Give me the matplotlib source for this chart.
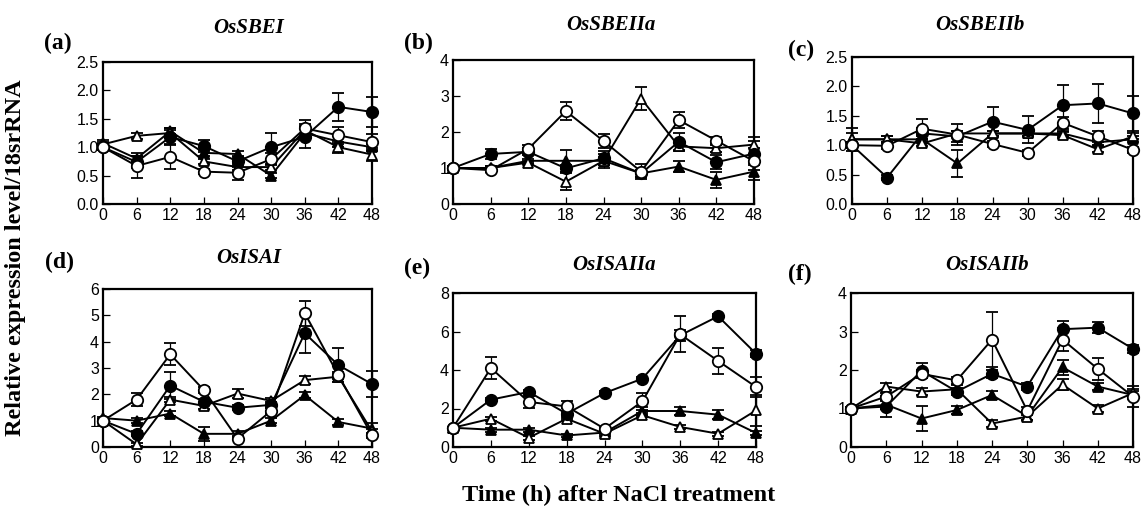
import numpy as np
import matplotlib
matplotlib.use('Agg')
import matplotlib.pyplot as plt
from matplotlib.ticker import FormatStrFormatter

#%% data: filled circle (fc), open circle (oc), filled triangle (ft), open triangle (ot)

hours = [0, 6, 12, 18, 24, 30, 36, 42, 48]

# (a) OsSBEI
a_fc = [1.0, 0.74, 1.18, 1.02, 0.75, 1.0, 1.18, 1.71, 1.62]
a_oc = [1.0, 0.67, 0.83, 0.57, 0.55, 0.79, 1.33, 1.21, 1.09]
a_ft = [1.07, 0.8, 1.28, 0.9, 0.88, 0.5, 1.25, 1.1, 1.0]
a_ot = [1.05, 1.2, 1.25, 0.75, 0.65, 0.65, 1.3, 1.0, 0.87]
a_fc_err = [0.05, 0.1, 0.15, 0.1, 0.1, 0.25, 0.2, 0.25, 0.27]
a_oc_err = [0.05, 0.22, 0.22, 0.05, 0.12, 0.1, 0.15, 0.15, 0.15]
a_ft_err = [0.05, 0.05, 0.05, 0.05, 0.05, 0.05, 0.1, 0.1, 0.05]
a_ot_err = [0.05, 0.05, 0.05, 0.05, 0.05, 0.05, 0.1, 0.1, 0.12]

# (b) OsSBEIIa
b_fc = [1.0, 1.39, 1.45, 0.99, 1.27, 0.85, 1.73, 1.16, 1.4]
b_oc = [1.0, 0.94, 1.53, 2.58, 1.75, 0.9, 2.33, 1.76, 1.19]
b_ft = [1.0, 1.0, 1.2, 1.2, 1.2, 0.85, 1.04, 0.67, 0.9]
b_ot = [1.0, 1.0, 1.15, 0.62, 1.2, 2.93, 1.6, 1.55, 1.65]
b_fc_err = [0.05, 0.15, 0.1, 0.1, 0.2, 0.1, 0.25, 0.2, 0.45]
b_oc_err = [0.05, 0.05, 0.1, 0.25, 0.2, 0.2, 0.23, 0.1, 0.1]
b_ft_err = [0.05, 0.05, 0.05, 0.3, 0.2, 0.1, 0.15, 0.23, 0.23]
b_ot_err = [0.05, 0.05, 0.05, 0.23, 0.1, 0.33, 0.1, 0.1, 0.1]

# (c) OsSBEIIb
c_fc = [1.0, 0.45, 1.2, 1.15, 1.4, 1.26, 1.68, 1.71, 1.54]
c_oc = [1.0, 0.99, 1.28, 1.18, 1.02, 0.87, 1.38, 1.15, 0.92]
c_ft = [1.1, 1.1, 1.1, 0.69, 1.2, 1.2, 1.2, 1.05, 1.1]
c_ot = [1.1, 1.1, 1.03, 1.2, 1.2, 1.2, 1.17, 0.93, 1.15]
c_fc_err = [0.05, 0.05, 0.1, 0.1, 0.25, 0.23, 0.35, 0.33, 0.3]
c_oc_err = [0.05, 0.05, 0.17, 0.18, 0.05, 0.05, 0.1, 0.1, 0.05]
c_ft_err = [0.1, 0.05, 0.05, 0.23, 0.05, 0.05, 0.05, 0.05, 0.05]
c_ot_err = [0.2, 0.05, 0.05, 0.05, 0.05, 0.05, 0.05, 0.05, 0.05]

# (d) OsISAI
d_fc = [1.0, 0.5, 2.33, 1.72, 1.49, 1.6, 4.32, 3.11, 2.39]
d_oc = [1.0, 1.8, 3.52, 2.16, 0.32, 1.37, 5.08, 2.73, 0.44]
d_ft = [1.1, 1.0, 1.27, 0.5, 0.5, 1.0, 1.97, 0.95, 0.7]
d_ot = [1.0, 0.1, 1.8, 1.56, 2.03, 1.75, 2.54, 2.67, 0.6]
d_fc_err = [0.05, 0.1, 0.5, 0.1, 0.1, 0.1, 0.75, 0.64, 0.5]
d_oc_err = [0.05, 0.25, 0.42, 0.1, 0.05, 0.1, 0.47, 0.1, 0.1]
d_ft_err = [0.05, 0.1, 0.1, 0.26, 0.1, 0.1, 0.1, 0.1, 0.2]
d_ot_err = [0.05, 0.05, 0.1, 0.1, 0.17, 0.1, 0.15, 0.1, 0.1]

# (e) OsISAIIa
e_fc = [1.0, 2.46, 2.86, 1.73, 2.8, 3.55, 5.8, 6.79, 4.85]
e_oc = [1.0, 4.1, 2.34, 2.11, 0.95, 2.37, 5.85, 4.47, 3.12]
e_ft = [1.0, 0.9, 0.9, 0.6, 0.75, 1.87, 1.87, 1.68, 0.73]
e_ot = [1.0, 1.47, 0.48, 1.47, 0.69, 1.65, 1.04, 0.69, 1.9]
e_fc_err = [0.05, 0.1, 0.1, 0.3, 0.1, 0.1, 0.3, 0.1, 0.2]
e_oc_err = [0.05, 0.58, 0.3, 0.3, 0.1, 0.43, 0.94, 0.69, 0.5]
e_ft_err = [0.05, 0.1, 0.1, 0.1, 0.1, 0.2, 0.2, 0.25, 0.1]
e_ot_err = [0.05, 0.1, 0.1, 0.1, 0.1, 0.1, 0.1, 0.1, 0.8]

# (f) OsISAIIb
f_fc = [1.0, 1.05, 1.98, 1.44, 1.9, 1.57, 3.06, 3.1, 2.55]
f_oc = [1.0, 1.31, 1.9, 1.73, 2.79, 0.94, 2.79, 2.03, 1.31]
f_ft = [1.0, 1.1, 0.74, 0.96, 1.35, 0.8, 2.07, 1.57, 1.35]
f_ot = [1.0, 1.57, 1.44, 1.5, 0.61, 0.79, 1.62, 1.0, 1.4]
f_fc_err = [0.05, 0.28, 0.2, 0.1, 0.1, 0.1, 0.22, 0.15, 0.1]
f_oc_err = [0.05, 0.1, 0.1, 0.1, 0.72, 0.1, 0.3, 0.28, 0.27]
f_ft_err = [0.05, 0.1, 0.32, 0.1, 0.1, 0.1, 0.2, 0.1, 0.1]
f_ot_err = [0.05, 0.1, 0.1, 0.1, 0.1, 0.1, 0.15, 0.1, 0.1]

genes = ['OsSBEI', 'OsSBEIIa', 'OsSBEIIb', 'OsISAI', 'OsISAIIa', 'OsISAIIb']
letters = ['(a)', '(b)', '(c)', '(d)', '(e)', '(f)']
ymax = [2.5, 4, 2.5, 6, 8, 4]
ystep = [0.5, 1, 0.5, 1, 2, 1]

#%%

W, H = 1142, 507
SERIF = 'Liberation Serif'
SANS = 'Liberation Sans'

# axes boxes in pixels: left, top, right, bottom
boxes = [(103, 62, 372, 204), (453, 60, 754, 204), (852, 57, 1133, 204),
         (103, 289, 372, 447), (453, 293, 756, 447), (851, 293, 1133, 447)]
letter_pos = [(58, 43), (418, 43), (801, 50), (59, 262), (417, 268), (800, 274)]
title_pos = [(249, 28), (611, 25), (980, 25), (249, 258), (614, 265), (987, 265)]

panels = [(a_fc, a_oc, a_ft, a_ot, a_fc_err, a_oc_err, a_ft_err, a_ot_err),
          (b_fc, b_oc, b_ft, b_ot, b_fc_err, b_oc_err, b_ft_err, b_ot_err),
          (c_fc, c_oc, c_ft, c_ot, c_fc_err, c_oc_err, c_ft_err, c_ot_err),
          (d_fc, d_oc, d_ft, d_ot, d_fc_err, d_oc_err, d_ft_err, d_ot_err),
          (e_fc, e_oc, e_ft, e_ot, e_fc_err, e_oc_err, e_ft_err, e_ot_err),
          (f_fc, f_oc, f_ft, f_ot, f_fc_err, f_oc_err, f_ft_err, f_ot_err)]

fig = plt.figure(figsize=(W / 100, H / 100), dpi=100)


def drawPanel(ax, data, top, step, fs):
    fc, oc, ft, ot, fc_e, oc_e, ft_e, ot_e = data
    # draw order: triangles first, open circles on top
    styles = [(ft, ft_e, '^', 'black'), (ot, ot_e, '^', 'white'),
              (fc, fc_e, 'o', 'black'), (oc, oc_e, 'o', 'white')]
    for vals, err, mk, face in styles:
        ax.errorbar(hours, vals, yerr=err, color='black', lw=1.4,
                    marker=mk, ms=8.2 if mk == 'o' else 7.8, mfc=face,
                    mec='black', mew=1.3, capsize=4, elinewidth=0.9,
                    capthick=0.9, clip_on=False, zorder=3)
    ax.set_xlim(0, 48)
    ax.set_ylim(0, top)
    ax.set_xticks(hours)
    ax.set_yticks(np.arange(0, top + step / 2, step))
    if step < 1:
        ax.yaxis.set_major_formatter(FormatStrFormatter('%.1f'))
    else:
        ax.yaxis.set_major_formatter(FormatStrFormatter('%d'))
    ax.tick_params(direction='in', length=5, width=0.9, labelsize=fs,
                   top=False, right=False, pad=3)
    for lab in ax.get_xticklabels() + ax.get_yticklabels():
        lab.set_fontfamily(SANS)
    for sp in ax.spines.values():
        sp.set_linewidth(1.6)


for i in range(6):
    l, t, r, b = boxes[i]
    ax = fig.add_axes([l / W, 1 - b / H, (r - l) / W, (b - t) / H])
    drawPanel(ax, panels[i], ymax[i], ystep[i], 11.5)
    fig.text(letter_pos[i][0] / W, 1 - letter_pos[i][1] / H, letters[i],
             fontfamily=SERIF, fontweight='bold', fontsize=17,
             ha='center', va='center')
    fig.text(title_pos[i][0] / W, 1 - title_pos[i][1] / H, genes[i],
             fontfamily=SERIF, fontweight='bold', fontstyle='italic',
             fontsize=15, ha='center', va='center')

fig.text(16 / W, 1 - 258 / H, 'Relative expression level/18srRNA',
         fontfamily=SERIF, fontweight='bold', fontsize=17.5,
         rotation=90, ha='center', va='center')
fig.text(619 / W, 1 - 495 / H, 'Time (h) after NaCl treatment',
         fontfamily=SERIF, fontweight='bold', fontsize=17.5,
         ha='center', va='center')

fig.savefig('out.png', dpi=100)
